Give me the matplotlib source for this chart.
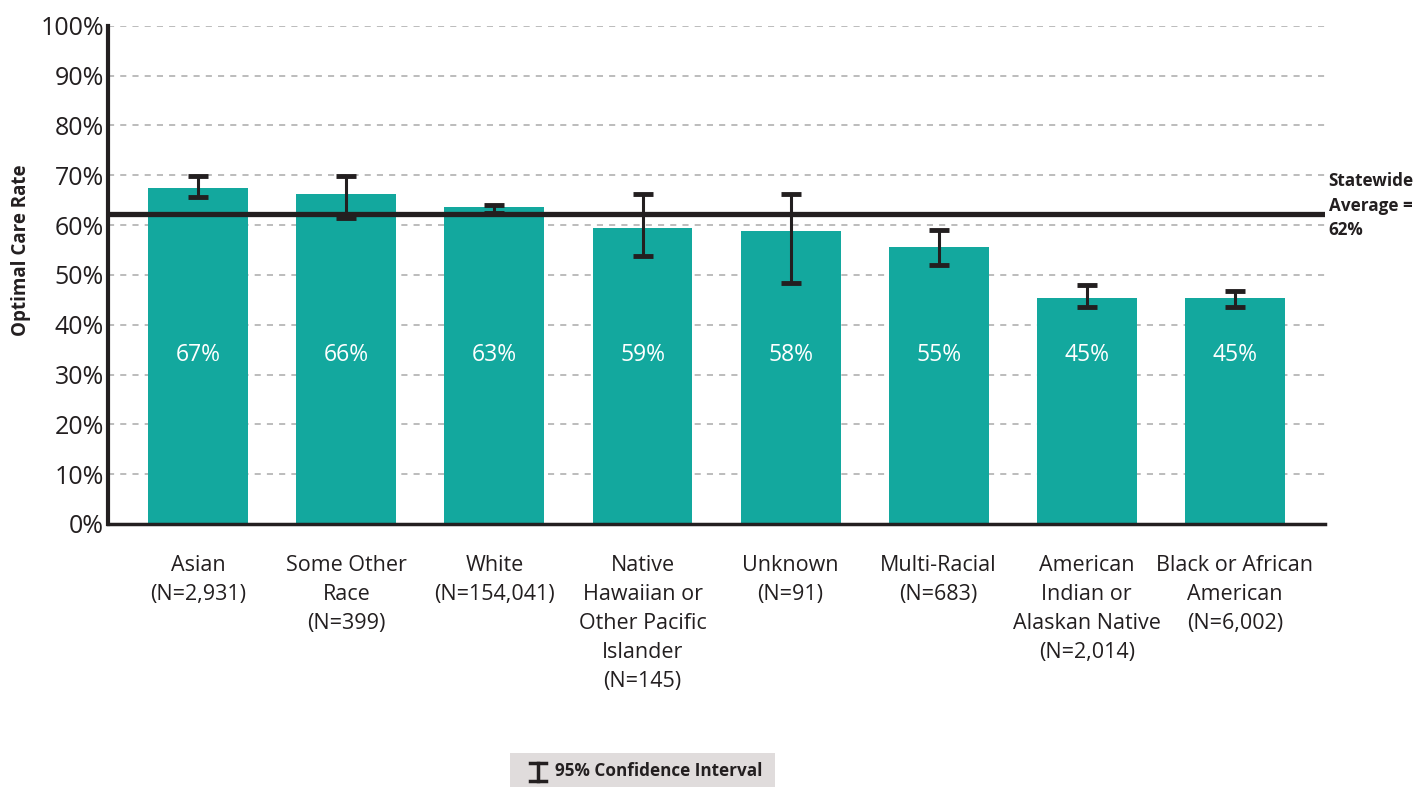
import matplotlib.pyplot as plt
import numpy as np
from matplotlib.lines import Line2D
from matplotlib.patches import Rectangle

plt.rcParams['font.family'] = ['Open Sans', 'DejaVu Sans']

# -------------------------- data --------------------------
categories = ['Asian\n(N=2,931)', 'Some Other\nRace\n(N=399)', 'White\n(N=154,041)',
              'Native\nHawaiian or\nOther Pacific\nIslander\n(N=145)', 'Unknown\n(N=91)',
              'Multi-Racial\n(N=683)', 'American\nIndian or\nAlaskan Native\n(N=2,014)',
              'Black or African\nAmerican\n(N=6,002)']
rates = [67.5, 66.3, 63.7, 59.4, 58.8, 55.6, 45.4, 45.4]
rate_labels = ['67%', '66%', '63%', '59%', '58%', '55%', '45%', '45%']
ci_low = [65.7, 61.4, 62.5, 53.8, 48.4, 52.0, 43.6, 43.6]
ci_high = [69.9, 69.9, 64.1, 66.3, 66.3, 59.1, 48.0, 46.8]
bar_bottom = [0, 0, 0, 0, -0.9, 0, 0, 0]
statewide = 62.3

teal = '#13a89e'
dark = '#231f20'

fig = plt.figure(figsize=(14.2, 7.87), dpi=100)
ax = fig.add_axes([0.0761, 0.3342, 0.857, 0.633])

x = np.arange(len(categories))
heights = [r - b for r, b in zip(rates, bar_bottom)]
ax.bar(x, heights, bottom=bar_bottom, width=0.675, color=teal, zorder=2)

yerr = [np.array(rates) - np.array(ci_low), np.array(ci_high) - np.array(rates)]
ax.errorbar(x, rates, yerr=yerr, fmt='none', ecolor=dark, elinewidth=2.2,
            capsize=7, capthick=3.5, zorder=4)

# statewide average line
ax.axhline(statewide, color=dark, lw=3.8, zorder=5)
ax.text(1.003, statewide / 100 + 0.083, 'Statewide\nAverage =\n62%', transform=ax.transAxes,
        fontsize=12.3, fontweight='bold', color=dark, va='top', ha='left', linespacing=1.45)

# value labels inside bars
for xi, lab in zip(x, rate_labels):
    ax.text(xi, 34.0, lab, color='white', fontsize=16.5, ha='center', va='center', zorder=6)

# axes styling
ax.set_xlim(-0.61, 7.61)
ax.set_ylim(0, 100)
ax.set_yticks(np.arange(0, 101, 10))
ax.set_yticklabels([f'{v}%' for v in range(0, 101, 10)], fontsize=18, color=dark)
ax.tick_params(axis='y', length=0, pad=3)
ax.tick_params(axis='x', length=0, pad=22)
ax.set_xticks(x)
ax.set_xticklabels(categories, fontsize=15.5, color=dark, linespacing=1.5, va='top')
ax.yaxis.grid(True, linestyle=(0, (4, 4)), color='#aaaaaa', lw=1.1, zorder=0)
ax.set_axisbelow(True)
for s in ['top', 'right']:
    ax.spines[s].set_visible(False)
ax.spines['left'].set_linewidth(3)
ax.spines['left'].set_color(dark)
ax.spines['bottom'].set_linewidth(2.5)
ax.spines['bottom'].set_color(dark)
ax.spines['bottom'].set_zorder(3)

ax.set_ylabel('Optimal Care Rate', fontsize=13.5, fontweight='bold', color=dark)
ax.yaxis.set_label_coords(-0.063, 0.55)

# legend box at the bottom
fig.patches.append(Rectangle((510 / 1420, 0), 265 / 1420, 34 / 787, transform=fig.transFigure,
                             facecolor='#e0dcdc', edgecolor='none'))
cx = 538 / 1420
y1, y2 = (787 - 763) / 787, (787 - 781) / 787
fig.lines.append(Line2D([cx, cx], [y1, y2], transform=fig.transFigure, color=dark, lw=2.5))
for yy in (y1, y2):
    fig.lines.append(Line2D([cx - 8 / 1420, cx + 8 / 1420], [yy, yy], transform=fig.transFigure,
                            color=dark, lw=2.5))
fig.text(555 / 1420, (787 - 771) / 787, '95% Confidence Interval', fontsize=12.3,
         fontweight='bold', color=dark, va='center', ha='left')

fig.savefig('out.png', dpi=100)
